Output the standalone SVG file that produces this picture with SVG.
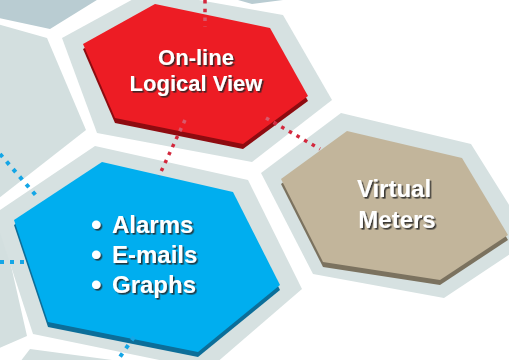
<svg xmlns="http://www.w3.org/2000/svg" width="509" height="360" viewBox="0 0 509 360">
<defs>
<style>
.plate{fill:#d6e1e1}
.bg{fill:#d3dfdf}
.dark{fill:#b9ccd2}
.lbl{font-family:"Liberation Sans",Arial,Helvetica,sans-serif;font-weight:bold;fill:#ffffff;filter:url(#ts)}
.bul{font-size:30px}
.con{fill:none;stroke-linecap:butt}
.red{stroke-width:3.5;stroke-dasharray:3.5 5.3}
.blue{stroke:#14a6e6;stroke-width:4;stroke-dasharray:4 6}
</style>
<filter id="ts" x="-10%" y="-30%" width="130%" height="170%">
<feDropShadow dx="1.6" dy="1.6" stdDeviation="0.5" flood-color="#262626" flood-opacity="0.85"/>
</filter>
<linearGradient id="g1" gradientUnits="userSpaceOnUse" x1="205" y1="0" x2="205" y2="27">
<stop offset="0" stop-color="#d3283d"/><stop offset="0.5" stop-color="#d3283d"/><stop offset="0.56" stop-color="#d85a6c"/><stop offset="1" stop-color="#d85a6c"/>
</linearGradient>
<linearGradient id="g2" gradientUnits="userSpaceOnUse" x1="185" y1="120" x2="159" y2="176">
<stop offset="0" stop-color="#d85a6c"/><stop offset="0.22" stop-color="#d85a6c"/><stop offset="0.27" stop-color="#d3283d"/><stop offset="1" stop-color="#d3283d"/>
</linearGradient>
<linearGradient id="g3" gradientUnits="userSpaceOnUse" x1="266" y1="118" x2="320" y2="149">
<stop offset="0" stop-color="#d85a6c"/><stop offset="0.12" stop-color="#d85a6c"/><stop offset="0.17" stop-color="#d3283d"/><stop offset="1" stop-color="#d3283d"/>
</linearGradient>
</defs>
<rect x="0" y="0" width="509" height="360" fill="#ffffff"/>
<g id="background-cells">
<polygon class="dark" points="-10,16 50,29 113,-10 -10,-10"/>
<polygon class="dark" points="238,0 283,0 252,4"/>
<polygon class="bg" points="-10,22 47,38 86,130 -10,205"/>
<polygon class="bg" points="-10,226 2,226 27,336 -10,352"/>
<polygon class="bg" points="20,362 30,349 112,360 112,362"/>
</g>
<g id="node-online">
<polygon class="plate" points="62,38 148,-9 283,15 332,100 252,162 97,133"/>
<polygon fill="#8e0b10" points="83,49 155,9 270,33 308,101 243,149 115,123"/>
<polygon fill="#ed1c24" points="83,44 155,4 270,28 308,96 243,144 115,118"/>
<text class="lbl" font-size="22" text-anchor="middle"><tspan x="196" y="65">On-line</tspan><tspan x="196" y="91">Logical View</tspan></text>
</g>
<g id="node-meters">
<polygon class="plate" points="261,173 341,113 471,144 531,240 444,298 313,274"/>
<polygon fill="#7b725f" points="281,184 347,136 462,163 508,240 440,285 323,267"/>
<polygon fill="#c2b59b" points="281,179 347,131 462,158 508,235 440,280 323,262"/>
<text class="lbl" font-size="24" text-anchor="middle"><tspan x="394" y="197">Virtual</tspan><tspan x="397" y="228">Meters</tspan></text>
</g>
<g id="node-alarms">
<polygon class="plate" points="-6,214 95,146 248,180 302,289 208,370 33,334"/>
<polygon fill="#0c6e99" points="14,225 102,167 233,197 280,290 198,357 48,327"/>
<polygon fill="#00aeef" points="14,220 102,162 233,192 280,285 198,352 48,322"/>
<text class="lbl" font-size="24"><tspan class="bul" x="91" y="235">•</tspan><tspan x="112" y="233">Alarms</tspan><tspan class="bul" x="91" y="265">•</tspan><tspan x="112" y="263">E-mails</tspan><tspan class="bul" x="91" y="295">•</tspan><tspan x="112" y="293">Graphs</tspan></text>
</g>
<g id="connectors">
<line class="con red" stroke="url(#g1)" x1="205" y1="0" x2="205" y2="27"/>
<line class="con red" stroke="url(#g2)" x1="185" y1="120" x2="159" y2="176"/>
<line class="con red" stroke="url(#g3)" x1="266" y1="118" x2="320" y2="149"/>
<line class="con blue" x1="0" y1="154" x2="39" y2="199"/>
<line class="con blue" x1="0" y1="262" x2="27" y2="262"/>
<line class="con blue" x1="134" y1="337" x2="117" y2="361"/>
</g>
</svg>
